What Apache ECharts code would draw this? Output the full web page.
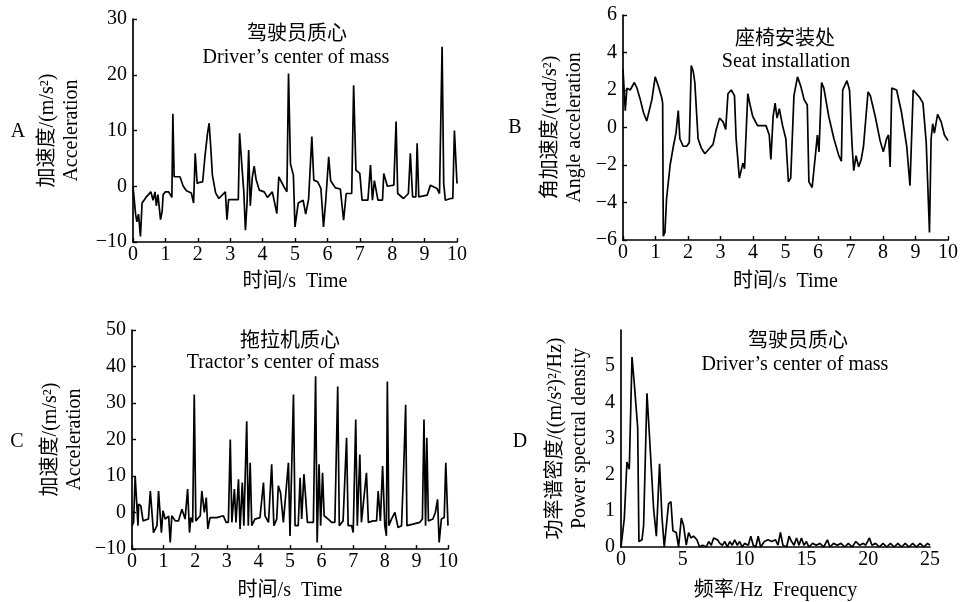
<!DOCTYPE html>
<html>
<head>
<meta charset="utf-8">
<script src="https://cdn.jsdelivr.net/npm/echarts@6/dist/echarts.min.js"></script>
<style>
  html, body { margin: 0; padding: 0; background: #fff; }
  #chart { width: 961px; height: 602px; }
</style>
</head>
<body>
<div id="chart"></div>
<script>
// A: driver's center of mass, acceleration vs time
const timeA = [0.00, 0.08, 0.12, 0.17, 0.23, 0.28, 0.40, 0.55, 0.62, 0.68, 0.72, 0.77, 0.85, 0.90, 0.93, 1.00, 1.10, 1.20, 1.23, 1.27,
  1.45, 1.55, 1.65, 1.80, 1.87, 1.92, 1.98, 2.05, 2.15, 2.22, 2.30, 2.35, 2.40, 2.45, 2.55, 2.65, 2.85, 2.90, 2.95, 3.25,
  3.29, 3.35, 3.42, 3.47, 3.52, 3.57, 3.62, 3.68, 3.74, 3.80, 3.90, 4.05, 4.15, 4.30, 4.44, 4.50, 4.65, 4.75, 4.80, 4.86,
  4.95, 5.00, 5.10, 5.25, 5.33, 5.42, 5.52, 5.58, 5.70, 5.80, 5.88, 5.95, 6.04, 6.10, 6.25, 6.40, 6.50, 6.58, 6.75, 6.81,
  6.88, 7.00, 7.07, 7.25, 7.33, 7.39, 7.45, 7.56, 7.70, 7.74, 7.85, 8.05, 8.12, 8.17, 8.35, 8.50, 8.56, 8.63, 8.73, 8.77,
  8.82, 9.08, 9.18, 9.38, 9.46, 9.54, 9.59, 9.64, 9.80, 9.87, 9.92, 10.0];
const accA = [0, -5, -6.4, -5, -9, -3, -2, -1, -2.5, -1, -3.5, -1.5, -6, -4.5, -1.5, -1, -1, -2, 13, 1.7,
  1.7, 0, -0.8, -1.2, -3, 5.9, 0.5, 0.7, 0.8, 5.3, 9.5, 11.3, 7, 2, -1.2, -2.2, -1, -6, -2.4, -2.4,
  9.5, 4.5, -1, -7.9, -3, 6.5, -3.5, 1.5, 3.6, 1.2, -0.7, -1, -2, -1, -4.9, 1.7, 0, -1, 20.2, 4,
  2, -7.3, -3, -2.5, -5, -2.3, 8.9, 1.1, 0.8, -0.4, -7.3, -2.5, 5.3, 1, -0.3, -0.5, -6.1, -1.3, -1.3, 18.1,
  2.9, 2.3, -2.5, -2.5, 3.8, -2.5, 1, -2.5, -2.5, 2.3, 0, 0.2, 11.6, -1.3, -2.2, -1.3, 5.9, -1.9, -1.9, 7.7,
  -1.9, -1.6, 0.2, -0.4, -1.3, 25, 0.5, -2.5, -2.2, -2.2, 10, 0.5];

// B: seat installation, angular acceleration vs time
const timeB = [0, 0.07, 0.12, 0.22, 0.35, 0.43, 0.53, 0.63, 0.73, 0.78, 0.89, 0.99, 1.09, 1.19, 1.22, 1.24, 1.29, 1.34, 1.45, 1.55,
  1.63, 1.70, 1.75, 1.85, 1.96, 2.04, 2.10, 2.16, 2.21, 2.31, 2.41, 2.52, 2.62, 2.77, 2.87, 2.97, 3.08, 3.16, 3.23, 3.33,
  3.43, 3.48, 3.58, 3.69, 3.74, 3.84, 3.91, 3.99, 4.14, 4.40, 4.50, 4.55, 4.62, 4.68, 4.74, 4.81, 4.91, 5.01, 5.09, 5.16,
  5.26, 5.37, 5.47, 5.57, 5.67, 5.72, 5.82, 5.93, 5.98, 6.03, 6.11, 6.18, 6.33, 6.49, 6.64, 6.72, 6.76, 6.89, 6.97, 7.05,
  7.10, 7.17, 7.25, 7.33, 7.40, 7.45, 7.54, 7.61, 7.76, 7.91, 8.01, 8.11, 8.17, 8.22, 8.27, 8.42, 8.57, 8.73, 8.83, 8.88,
  8.93, 9.03, 9.13, 9.23, 9.33, 9.43, 9.48, 9.53, 9.58, 9.68, 9.79, 9.89, 10.0];
const angB = [3.1, 0.9, 2.1, 2.0, 2.4, 2.1, 1.5, 0.8, 0.35, 0.4, 1.5, 2.7, 2.2, 1.6, 1.3, -5.8, -5.6, -3.8, -2.0, -1.0,
  -0.3, 0.9, -0.6, -1.0, -1.0, -0.8, 3.3, 3.0, 2.4, -0.6, -1.1, -1.4, -1.2, -0.9, -0.1, 0.5, 0.3, -0.1, 1.8, 2.0,
  1.7, -0.6, -2.7, -1.9, -2.2, 1.8, 1.2, 0.6, 0.1, 0.1, -0.4, -1.7, 0.6, 1.3, 0.5, 1.0, 0.1, -0.6, -2.9, -2.7,
  1.7, 2.7, 2.2, 1.5, 1.2, -2.9, -3.2, -1.3, -0.4, -1.3, 2.4, 2.1, 0.6, -0.6, -1.5, -1.8, 2.0, 2.5, 2.0, -1.0,
  -2.3, -1.5, -2.1, -1.7, -1.0, -1.0, 1.9, 1.7, 0.6, -0.7, -1.3, -0.6, -0.4, -2.1, 2.1, 2.0, 0.8, -1.0, -3.1, -3.2,
  2.0, 1.8, 1.6, 1.3, -0.8, -5.6, -0.6, 0.2, -0.3, 0.7, 0.3, -0.4, -0.7];

// C: tractor's center of mass, acceleration vs time
const timeC = [0, 0.05, 0.10, 0.16, 0.19, 0.21, 0.28, 0.35, 0.52, 0.58, 0.68, 0.79, 0.84, 0.93, 0.98, 1.05, 1.16, 1.21, 1.26, 1.37,
  1.47, 1.58, 1.68, 1.76, 1.82, 1.86, 1.92, 1.97, 2.02, 2.16, 2.21, 2.29, 2.35, 2.40, 2.47, 2.68, 2.89, 2.98, 3.05, 3.11,
  3.16, 3.24, 3.29, 3.37, 3.42, 3.49, 3.54, 3.63, 3.68, 3.74, 3.79, 3.89, 4.05, 4.16, 4.21, 4.32, 4.42, 4.49, 4.58, 4.63,
  4.70, 4.79, 4.95, 5.00, 5.05, 5.11, 5.16, 5.26, 5.32, 5.37, 5.44, 5.50, 5.55, 5.74, 5.81, 5.86, 5.92, 5.97, 6.03, 6.08,
  6.21, 6.32, 6.42, 6.51, 6.56, 6.68, 6.79, 6.84, 6.95, 7.00, 7.08, 7.13, 7.21, 7.26, 7.42, 7.48, 7.63, 7.74, 7.79, 7.86,
  7.93, 8.00, 8.05, 8.08, 8.13, 8.21, 8.32, 8.42, 8.53, 8.60, 8.66, 8.70, 8.89, 9.11, 9.19, 9.24, 9.29, 9.33, 9.38, 9.52,
  9.60, 9.67, 9.72, 9.79, 9.88, 9.93, 10.0];
const accC = [-3.6, -2.7, 10, 10.5, -3.6, 2.3, 1.8, -2.3, -1.8, 5.9, -5.5, -3.6, 5.9, -5.5, 0.5, -1.8, -1, -8.2, -0.9, -2.3,
  -2.3, 0.9, -1.8, 6.4, -5.5, -1.4, -2.7, 32.3, -2.3, -0.9, 5.9, 0, 4.1, -4.5, -1.4, -1.4, -0.9, -2.7, -2.7, 20,
  -2.7, 6.4, -2.7, 9.1, -4.5, 8.2, -3.6, 25, -3.6, 13.6, -3.6, -1.8, -1.4, 8.2, -0.9, -2.7, 13.2, -3.6, -1.8, 7.3,
  5.5, -2.7, 13.6, -6.4, -6.4, 32.3, -3.6, -3.6, 9.5, -1.8, 10.5, 3.6, -2.7, -2.7, 37.3, -8.2, 13.2, -3.6, 10.9, -0.9,
  -1.8, -2.7, -2.7, 34.5, -3.6, -2.3, 20.5, -3.6, -3.6, -5.5, 25.5, -3.6, 15.9, -2.7, 10.9, -2.7, -2.3, -2.3, 5.9, -2.3,
  12.7, -3.6, -6.4, 35.9, -3.6, -1.8, 0, -4.1, -3.6, 12.7, 29.5, -3.6, -3.2, -2.7, -1.8, 25.5, -3.6, 20.5, -2.3, -1.8,
  0, 3.6, -8.2, -1.8, -1.4, 13.6, -3.6];

// D: power spectral density of driver's center of mass
const freqD = [0, 0.27, 0.48, 0.67, 0.89, 1.08, 1.35, 1.45, 1.70, 1.83, 2.10, 2.29, 2.64, 2.86, 3.12, 3.31, 3.50, 3.85, 4.04, 4.20,
  4.47, 4.66, 4.88, 5.06, 5.28, 5.47, 5.66, 5.87, 6.14, 6.36, 6.6, 6.9, 7.1, 7.3, 7.5, 7.8, 8.0, 8.2, 8.4, 8.6,
  8.8, 9.0, 9.2, 9.4, 9.6, 9.8, 10.0, 10.3, 10.5, 10.7, 10.9, 11.1, 11.3, 11.6, 11.9, 12.2, 12.5, 12.7, 12.9, 13.1,
  13.4, 13.6, 13.8, 14.0, 14.2, 14.4, 14.6, 14.8, 15.0, 15.2, 15.5, 15.8, 16.1, 16.4, 16.7, 16.9, 17.2, 17.5, 17.8, 18.1,
  18.4, 18.7, 19.0, 19.3, 19.6, 19.8, 20.1, 20.3, 20.6, 20.9, 21.2, 21.5, 21.8, 22.1, 22.4, 22.7, 23.0, 23.3, 23.6, 23.9,
  24.2, 24.5, 24.8, 25.0];
const psdD = [0, 0.8, 2.35, 2.15, 5.25, 4.5, 3.3, 0.15, 0.2, 0.6, 4.25, 3.15, 1.05, 0.3, 2.3, 0.85, 0, 1.2, 1.25, 0.45,
  0.4, 0, 0.8, 0.6, 0.05, 0.4, 0.25, 0.3, 0.2, 0, 0.05, 0, 0.15, 0.05, 0.25, 0.2, 0.1, 0.05, 0.15, 0,
  0.15, 0.05, 0.2, 0.05, 0.15, 0, 0.1, 0.05, 0.3, 0.05, 0, 0.3, 0, 0.15, 0.2, 0.15, 0.2, 0.05, 0.4, 0.05,
  0, 0.3, 0.15, 0.05, 0.25, 0.05, 0.25, 0.05, 0.15, 0, 0.1, 0.05, 0.1, 0, 0.2, 0, 0.1, 0.05, 0.1, 0,
  0.1, 0, 0.15, 0.05, 0.1, 0.05, 0.25, 0.05, 0.1, 0, 0.1, 0, 0.1, 0, 0.1, 0, 0.1, 0, 0.1, 0,
  0.1, 0, 0.1, 0.05];

const zip = (xs, ys) => xs.map((x, i) => [x, ys[i]]);

const FONT = "'Liberation Serif', 'Noto Sans CJK SC', serif";
const minus = v => String(v).replace('-', '\u2212');

function xAxisFor(gridIndex, max, interval, name, gap, ticks) {
  return {
    gridIndex: gridIndex, type: 'value', min: 0, max: max, interval: interval,
    name: name, nameLocation: 'middle', nameGap: gap,
    nameTextStyle: { color: '#000', fontSize: 20, fontFamily: FONT },
    axisLine: { onZero: false, lineStyle: { color: '#000', width: 1.7 } },
    axisTick: { show: ticks, inside: true, length: 4, lineStyle: { color: '#000', width: 1.4 } },
    axisLabel: { color: '#000', fontSize: 20, fontFamily: FONT, margin: 3 },
    splitLine: { show: false }
  };
}

function yAxisFor(gridIndex, min, max, interval, name, gap, ticks, hideTop) {
  return {
    gridIndex: gridIndex, type: 'value', min: min, max: max, interval: interval,
    name: name, nameLocation: 'middle', nameGap: gap, nameRotate: 90,
    nameTextStyle: { color: '#000', fontSize: 20, fontFamily: FONT, lineHeight: 24 },
    axisLine: { show: true, onZero: false, lineStyle: { color: '#000', width: 1.7 } },
    axisTick: { show: ticks, inside: true, length: 4, lineStyle: { color: '#000', width: 1.4 } },
    axisLabel: {
      color: '#000', fontSize: 20, fontFamily: FONT, margin: 6,
      formatter: v => (hideTop && v === max) ? '' : minus(v)
    },
    splitLine: { show: false }
  };
}

function lineSeries(idx, data) {
  return {
    type: 'line', xAxisIndex: idx, yAxisIndex: idx, data: data,
    showSymbol: false, symbol: 'none', animation: false,
    lineStyle: { color: '#000', width: 1.7 }
  };
}

function label(text, x, y) {
  return {
    type: 'text', x: x, y: y,
    style: { text: text, fill: '#000', font: '20px ' + FONT, textAlign: 'center', textVerticalAlign: 'middle' }
  };
}

const chart = echarts.init(document.getElementById('chart'));
chart.setOption({
  backgroundColor: '#fff',
  animation: false,
  grid: [
    { left: 133, top: 19, width: 324, height: 223 },
    { left: 623, top: 15, width: 327, height: 225 },
    { left: 132, top: 330, width: 316, height: 220 },
    { left: 621, top: 330, width: 309, height: 218 }
  ],
  xAxis: [
    xAxisFor(0, 10, 1, '时间/s  Time', 30, true),
    xAxisFor(1, 10, 1, '时间/s  Time', 32, true),
    xAxisFor(2, 10, 1, '时间/s  Time', 32, true),
    xAxisFor(3, 25, 5, '频率/Hz  Frequency', 34, false)
  ],
  yAxis: [
    yAxisFor(0, -10, 30, 10, '加速度/(m/s²)\nAcceleration', 49, true, false),
    yAxisFor(1, -6, 6, 2, '角加速度/(rad/s²)\nAngle acceleration', 36, true, false),
    yAxisFor(2, -10, 50, 10, '加速度/(m/s²)\nAcceleration', 45, true, false),
    yAxisFor(3, 0, 6, 1, '功率谱密度/((m/s²)²/Hz)\nPower spectral density', 29, false, true)
  ],
  series: [
    lineSeries(0, zip(timeA, accA)),
    lineSeries(1, zip(timeB, angB)),
    lineSeries(2, zip(timeC, accC)),
    lineSeries(3, zip(freqD, psdD))
  ],
  graphic: [
    label('A', 18, 132),
    label('B', 515, 128),
    label('C', 17, 442),
    label('D', 520, 442),
    label('驾驶员质心', 297, 35),
    label('Driver\u2019s center of mass', 296, 58),
    label('座椅安装处', 785, 40),
    label('Seat installation', 786, 62),
    label('拖拉机质心', 290, 342),
    label('Tractor\u2019s center of mass', 283, 363),
    label('驾驶员质心', 798, 342),
    label('Driver\u2019s center of mass', 795, 365)
  ]
});
</script>
</body>
</html>
